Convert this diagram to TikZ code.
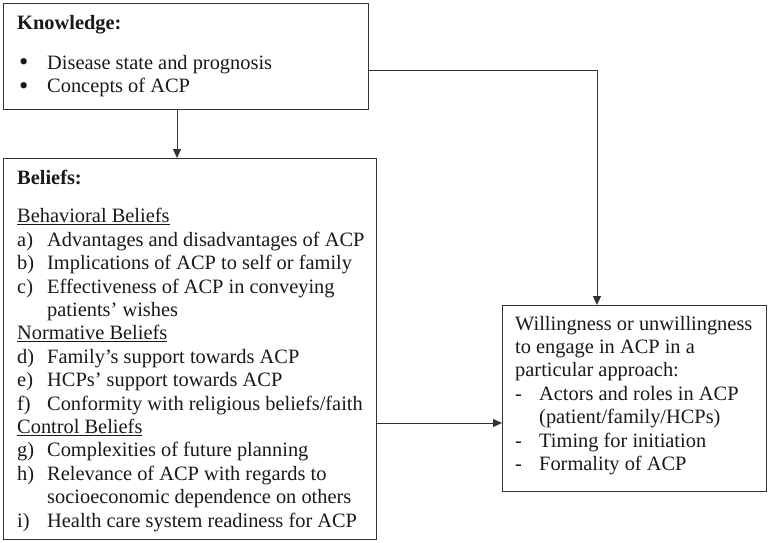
\documentclass[tikz,border=0pt]{standalone}
\usepackage{fontspec}
\setmainfont{Liberation Serif}
\usetikzlibrary{arrows.meta}
\tikzset{
  box/.style={draw=black!80, line width=1.1pt, anchor=north west, inner sep=0pt},
  txt/.style={anchor=north west, inner sep=0pt, align=left, text=black!90, font=\fontsize{20.4}{23.4}\selectfont},
  ttl/.style={txt, font=\fontsize{20.4}{23.4}\selectfont\bfseries},
  conn/.style={draw=black!80, line width=0.9pt, -{Triangle[length=9pt,width=8pt]}},
}
\newcommand\lab[1]{\makebox[30pt][l]{#1}}
\newcommand\dlab{\makebox[24pt][l]{-}}
\newcommand\bul{\makebox[30pt][l]{\hspace{2pt}\raisebox{-1.5pt}{\scalebox{1.3}{\textbullet}}}}
\begin{document}
\begin{tikzpicture}[x=1pt,y=-1pt]
\useasboundingbox (0,0) rectangle (768,542);
% boxes
\node[box, minimum width=365pt, minimum height=106pt] (k) at (3,3) {};
\node[box, minimum width=373pt, minimum height=381pt] (b) at (3,158) {};
\node[box, minimum width=264pt, minimum height=186pt] (w) at (502,305) {};
% knowledge text
\node[ttl] (kt) at (17,12.6) {\strut Knowledge:};
\node[txt] (kl) at (17,52.6) {\strut\bul Disease state and prognosis\\
\strut\bul Concepts of ACP};
% beliefs text
\node[ttl] (bt) at (17,167.9) {\strut Beliefs:};
\node[txt] (bl) at (17,206.3) {\strut\underline{Behavioral Beliefs}\\
\strut\lab{a)}Advantages and disadvantages of ACP\\
\strut\lab{b)}Implications of ACP to self or family\\
\strut\lab{c)}Effectiveness of ACP in conveying\\
\strut\lab{}patients’ wishes\\
\strut\underline{Normative Beliefs}\\
\strut\lab{d)}Family’s support towards ACP\\
\strut\lab{e)}HCPs’ support towards ACP\\
\strut\lab{f)}Conformity with religious beliefs/faith\\
\strut\underline{Control Beliefs}\\
\strut\lab{g)}Complexities of future planning\\
\strut\lab{h)}Relevance of ACP with regards to\\
\strut\lab{}socioeconomic dependence on others\\
\strut\lab{i)}Health care system readiness for ACP};
% willingness text
\node[txt] (wl) at (515,313.6) {\strut Willingness or unwillingness\\
\strut to engage in ACP in a\\
\strut particular approach:\\
\strut\dlab Actors and roles in ACP\\
\strut\makebox[24pt][l]{}(patient/family/HCPs)\\
\strut\dlab Timing for initiation\\
\strut\dlab Formality of ACP};
% connector positions
\coordinate (x1) at (177,0);
\coordinate (x2) at (597,0);
\coordinate (y1) at (0,70);
\coordinate (y2) at (0,423);
\draw[conn] (k.south -| x1) -- (b.north -| x1);
\draw[conn] (k.east |- y1) -| (w.north -| x2);
\draw[conn] (b.east |- y2) -- (w.west |- y2);
\end{tikzpicture}
\end{document}
